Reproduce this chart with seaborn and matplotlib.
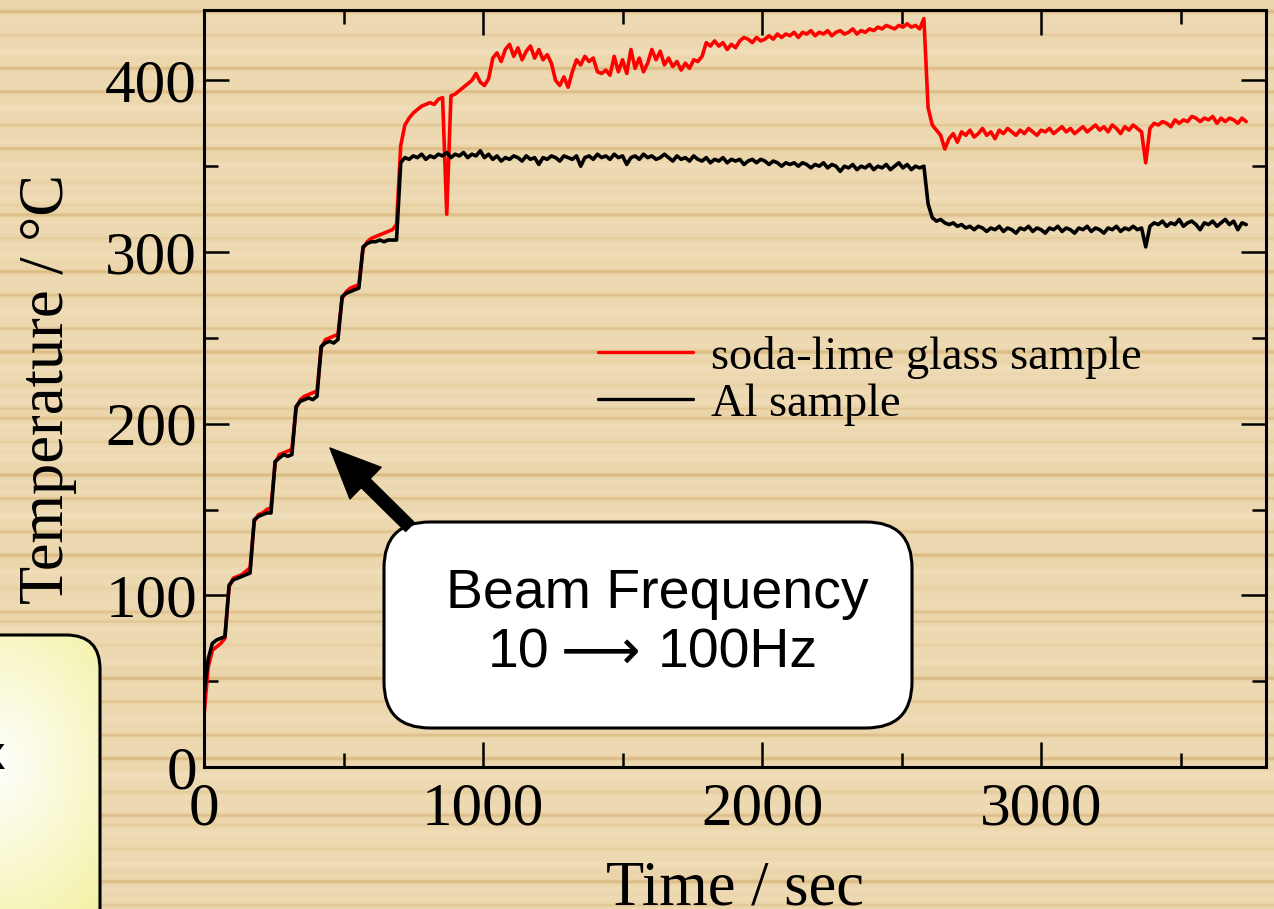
import numpy as np
import pandas as pd
import matplotlib
matplotlib.use("Agg")
import matplotlib.pyplot as plt
from matplotlib.patches import FancyBboxPatch
from matplotlib.ticker import MultipleLocator
import seaborn as sns

# -----------------------------
# Data (one reading every 15 s)
# -----------------------------
SAMPLE_STEP = 15

glass_temp = [
    30, 58, 68, 70, 72, 75, 105, 110, 111, 112,
    114, 116, 143, 147, 148, 150, 151, 177, 182, 183,
    184, 185, 209, 214, 216, 217, 218, 219, 244, 249,
    250, 251, 252, 273, 277, 279, 280, 281, 302, 306,
    308, 309, 310, 311, 312, 313, 316, 362, 374, 378,
    381, 383, 385, 386, 387, 386, 389, 390, 322, 391,
    392, 394, 396, 398, 400, 404, 399, 397, 401, 413,
    416, 411, 418, 421, 414, 419, 412, 417, 420, 413,
    418, 412, 415, 410, 400, 397, 402, 396, 405, 412,
    409, 414, 411, 413, 405, 404, 406, 403, 414, 405,
    412, 404, 418, 407, 413, 405, 410, 418, 412, 417,
    409, 413, 408, 411, 406, 410, 407, 412, 411, 414,
    422, 420, 423, 420, 422, 418, 421, 419, 423, 425,
    424, 422, 425, 423, 424, 426, 424, 427, 425, 427,
    426, 428, 425, 428, 427, 429, 426, 428, 427, 429,
    426, 428, 429, 427, 428, 430, 427, 429, 428, 430,
    429, 431, 430, 432, 431, 430, 432, 431, 433, 431,
    432, 430, 436, 384, 374, 371, 368, 360, 366, 369,
    364, 370, 368, 371, 367, 369, 372, 368, 370, 366,
    371, 369, 372, 370, 368, 371, 369, 372, 370, 368,
    371, 370, 372, 369, 371, 373, 370, 372, 369, 371,
    373, 370, 372, 374, 371, 373, 370, 374, 372, 369,
    373, 371, 374, 372, 370, 352, 372, 375, 374, 376,
    375, 373, 377, 375, 377, 376, 379, 378, 376, 378,
    377, 379, 375, 378, 376, 378, 377, 375, 378, 376,
]

al_temp = [
    42, 63, 72, 74, 75, 76, 106, 109, 110, 111,
    112, 113, 144, 146, 147, 148, 148, 178, 180, 182,
    181, 182, 210, 213, 214, 215, 214, 216, 245, 247,
    248, 247, 249, 274, 276, 277, 278, 279, 303, 305,
    306, 306, 307, 306, 307, 307, 307, 352, 355, 354,
    356, 355, 357, 354, 356, 355, 357, 356, 358, 355,
    357, 356, 358, 355, 357, 356, 359, 355, 357, 354,
    356, 353, 355, 354, 356, 355, 353, 356, 354, 355,
    351, 355, 354, 356, 355, 353, 356, 355, 354, 356,
    350, 355, 356, 354, 357, 355, 356, 354, 357, 355,
    356, 351, 355, 356, 354, 357, 355, 356, 354, 355,
    357, 355, 353, 356, 354, 355, 353, 356, 354, 353,
    355, 352, 354, 353, 355, 352, 354, 353, 354, 351,
    353, 354, 352, 354, 353, 351, 353, 352, 350, 352,
    351, 352, 350, 352, 351, 349, 351, 350, 352, 349,
    351, 350, 347, 350, 349, 351, 348, 350, 349, 351,
    348, 350, 349, 351, 348, 350, 352, 349, 351, 348,
    350, 349, 350, 328, 320, 318, 319, 317, 316, 317,
    315, 316, 314, 315, 313, 315, 314, 312, 314, 313,
    315, 312, 314, 313, 311, 314, 313, 315, 312, 314,
    313, 311, 314, 313, 315, 312, 314, 313, 311, 314,
    313, 315, 312, 314, 313, 311, 314, 313, 315, 312,
    314, 313, 315, 313, 314, 303, 315, 317, 316, 318,
    315, 317, 316, 319, 315, 317, 318, 316, 313, 317,
    316, 318, 315, 317, 319, 316, 318, 313, 317, 316,
]

time_s = np.arange(len(glass_temp)) * SAMPLE_STEP

series_labels = ["soda-lime glass sample", "Al sample"]
series_colors = ["#ff0000", "#000000"]

df = pd.DataFrame({
    "time": np.concatenate([time_s, time_s]),
    "temp": glass_temp + al_temp,
    "sample": [series_labels[0]] * len(glass_temp) + [series_labels[1]] * len(al_temp),
})

# -----------------------------
# Figure + wood background
# -----------------------------
sns.set_theme(style="ticks")
plt.rcParams["font.family"] = ["Liberation Serif", "DejaVu Serif"]
plt.rcParams["text.color"] = "black"
SANS = ["Liberation Sans", "DejaVu Sans"]

W, H = 1274, 909
fig = plt.figure(figsize=(W / 100, H / 100), dpi=100)

bg = fig.add_axes([0, 0, 1, 1], zorder=0)
bg.set_xlim(0, W)
bg.set_ylim(H, 0)
bg.axis("off")

yy = np.arange(H)
grain = (0.45 * np.sin(2 * np.pi * yy / 29.0)
         + 0.35 * np.sin(2 * np.pi * yy / 11.3 + 1.3)
         + 0.20 * np.sin(2 * np.pi * yy / 67.0 + 0.4))
light = np.array([240, 222, 186]) / 255
mid = np.array([233, 210, 165]) / 255
dark = np.array([218, 185, 128]) / 255
t = np.clip((grain + 1) / 2, 0, 1)[:, None]
shade = np.clip((grain - 0.55) / 0.3, 0, 1)[:, None]
rows = light * (1 - t) + mid * t
rows = rows * (1 - shade) + dark * shade
wood = np.tile(rows[:, None, :], (1, W, 1))
bg.imshow(wood, extent=(0, W, H, 0), origin="upper", aspect="auto", zorder=0)

# yellow panel peeking in at the lower left
panel = FancyBboxPatch((-60, 635), 160, 340, boxstyle="round,pad=0,rounding_size=34",
                       fc="none", ec="black", lw=2.2, zorder=3)
bg.add_patch(panel)
gx, gy = np.meshgrid(np.arange(W), np.arange(H))
r = np.clip(np.hypot(gx + 5, (gy - 765) * 0.8) / 200, 0, 1)[..., None]
yellow = np.array([240, 238, 140]) / 255
glow = np.ones(3) * (1 - r) + yellow * r
im = bg.imshow(glow, extent=(0, W, H, 0), origin="upper", aspect="auto", zorder=2)
im.set_clip_path(panel)
bg.text(-8, 757, "x", fontsize=34, fontweight="bold", family=SANS,
        ha="center", va="center", zorder=4)

# -----------------------------
# Main plot
# -----------------------------
ax = fig.add_axes([204 / W, 1 - 767 / H, 1062 / W, 757 / H], zorder=2)
ax.patch.set_alpha(0)

sns.lineplot(data=df, x="time", y="temp", hue="sample", hue_order=series_labels,
             palette=dict(zip(series_labels, series_colors)), estimator=None,
             linewidth=2.6, ax=ax)

ax.set_xlim(0, 3806)
ax.set_ylim(0, 441)
ax.xaxis.set_major_locator(MultipleLocator(1000))
ax.xaxis.set_minor_locator(MultipleLocator(500))
ax.yaxis.set_major_locator(MultipleLocator(100))
ax.yaxis.set_minor_locator(MultipleLocator(50))
ax.tick_params(which="both", direction="in", top=True, right=True, width=1.8,
               colors="black", labelsize=44)
ax.tick_params(which="major", length=18)
ax.tick_params(which="minor", length=10)
ax.tick_params(axis="y", pad=5)
ax.tick_params(axis="x", pad=11)
for sp in ax.spines.values():
    sp.set_visible(True)
    sp.set_linewidth(2.2)
    sp.set_color("black")

ax.set_xlabel("Time / sec", fontsize=45, color="black")
ax.set_ylabel("Temperature / °C", fontsize=45, color="black")
ax.xaxis.set_label_coords(0.5, -0.124)
ax.yaxis.set_label_coords(-0.12, 0.5)

handles, labels = ax.get_legend_handles_labels()
leg = ax.legend(handles, labels, loc="upper left", bbox_to_anchor=(0.371, 0.57),
                frameon=False, fontsize=33.5, handlelength=2.05, handletextpad=0.37,
                labelspacing=0.1, borderpad=0, borderaxespad=0, labelcolor="black")
for line in leg.get_lines():
    line.set_linewidth(2.4)

# -----------------------------
# Callout
# -----------------------------
ov = fig.add_axes([0, 0, 1, 1], zorder=3)
ov.set_xlim(0, W)
ov.set_ylim(H, 0)
ov.axis("off")
ov.patch.set_alpha(0)

ov.annotate("", xy=(330, 448), xytext=(410, 527),
            arrowprops=dict(arrowstyle="simple,head_length=1.8,head_width=1.6,tail_width=0.45",
                            fc="black", ec="black", mutation_scale=20, shrinkA=0, shrinkB=0))
ov.add_patch(FancyBboxPatch((384, 522), 528, 206, boxstyle="round,pad=0,rounding_size=46",
                            fc="white", ec="black", lw=2.2))
ov.text(657, 594, "Beam Frequency", ha="center", va="center",
        fontsize=40, family=SANS, color="black")
ov.text(549, 654, "10", ha="right", va="center", fontsize=40, family=SANS, color="black")
ov.text(601, 654, "⟶", ha="center", va="center", fontsize=40,
        family=["DejaVu Sans", "Noto Sans CJK JP"], color="black")
ov.text(658, 654, "100Hz", ha="left", va="center", fontsize=40, family=SANS, color="black")

fig.savefig("out.png", dpi=100)
